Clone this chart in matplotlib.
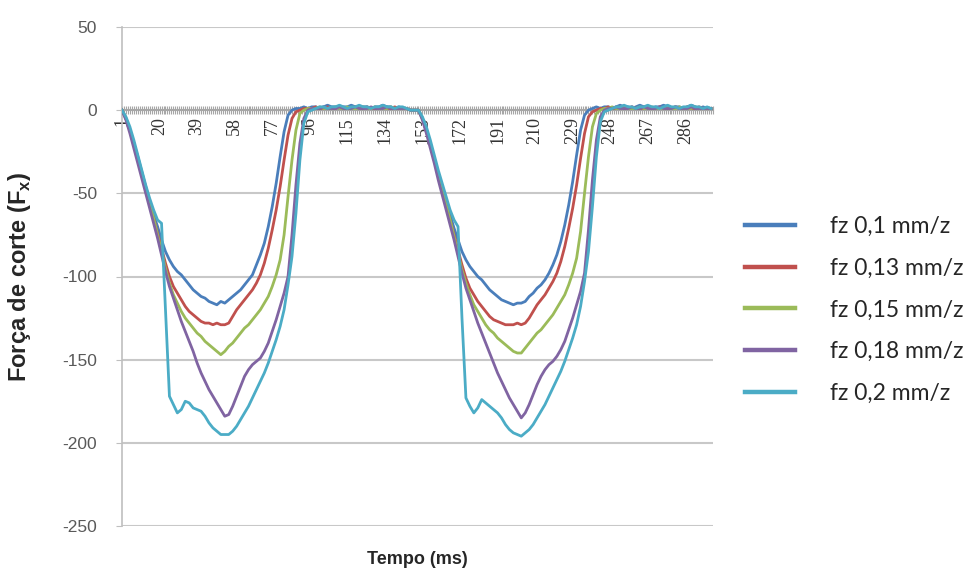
import numpy as np
import matplotlib
matplotlib.use('Agg')
import matplotlib.pyplot as plt

plt.rcParams['font.family'] = ['Liberation Sans', 'DejaVu Sans']
plt.rcParams['axes.unicode_minus'] = False
plt.rcParams['mathtext.fontset'] = 'custom'
plt.rcParams['mathtext.bf'] = 'Liberation Sans:bold'

# tempo em amostras (uma a cada 2 ms), duas passagens do dente
tempo = list(range(1, 301, 2))

fz_01 = [0, -5, -12, -20, -28, -37, -46, -55, -63, -70, -78, -85, -90, -94, -97, -99, -102, -105, -108, -110,
         -112, -113, -115, -116, -117, -115, -116, -114, -112, -110, -108, -105, -102, -99, -93, -87, -80, -70, -58, -44,
         -28, -13, -3, 0, 1, 1, 2, 1, 2, 2, 1, 2, 3, 2, 2, 1, 2, 2, 3, 2,
         1, 2, 2, 1, 2, 2, 3, 2, 2, 1, 2, 1, 1, 0, 0,
         0, -5, -12, -21, -29, -38, -47, -55, -63, -71, -78, -85, -90, -94, -97, -100, -102, -105, -108, -110,
         -112, -114, -115, -116, -117, -116, -116, -115, -112, -110, -107, -105, -102, -98, -93, -87, -79, -69, -57, -43,
         -27, -12, -3, 0, 1, 2, 1, 2, 2, 1, 2, 3, 2, 2, 1, 2, 3, 2, 2, 1,
         2, 2, 3, 2, 1, 2, 2, 1, 2, 3, 2, 1, 2, 1, 1]

fz_013 = [0, -5, -12, -20, -29, -38, -47, -56, -65, -74, -83, -92, -100, -106, -110, -114, -118, -121, -123, -125,
          -127, -128, -128, -129, -128, -129, -129, -128, -124, -120, -117, -114, -111, -108, -104, -99, -92, -83, -72, -60,
          -46, -30, -15, -5, -1, 0, 1, 1, 1, 2, 1, 1, 2, 1, 1, 2, 1, 1, 1, 2,
          1, 1, 2, 1, 1, 1, 2, 1, 1, 2, 1, 1, 1, 0, 0,
          0, -5, -13, -21, -30, -39, -48, -57, -66, -75, -84, -93, -101, -107, -111, -115, -118, -121, -124, -126,
          -127, -128, -129, -129, -129, -128, -129, -128, -125, -121, -117, -114, -111, -107, -103, -98, -91, -82, -71, -59,
          -45, -29, -14, -4, -1, 0, 1, 1, 2, 1, 1, 2, 1, 1, 2, 1, 1, 1, 2, 1,
          1, 2, 1, 1, 1, 2, 1, 1, 2, 1, 1, 2, 1, 1, 1]

fz_015 = [0, -5, -12, -20, -29, -38, -47, -56, -65, -75, -85, -95, -104, -111, -116, -121, -125, -128, -131, -134,
          -136, -139, -141, -143, -145, -147, -145, -142, -140, -137, -134, -131, -129, -126, -123, -120, -116, -112, -106, -99,
          -90, -75, -52, -30, -12, -2, 0, 1, 1, 1, 2, 1, 1, 1, 2, 1, 1, 2, 1, 1,
          1, 2, 1, 1, 2, 1, 1, 1, 2, 1, 1, 1, 1, 0, 0,
          0, -5, -12, -21, -30, -39, -48, -57, -66, -76, -86, -96, -104, -111, -117, -121, -125, -129, -132, -134,
          -137, -139, -141, -143, -145, -146, -146, -143, -140, -137, -134, -132, -129, -126, -123, -119, -115, -111, -105, -98,
          -89, -73, -50, -28, -10, -2, 0, 1, 1, 2, 1, 1, 2, 1, 1, 1, 2, 1, 1, 2,
          1, 1, 1, 2, 1, 1, 2, 1, 1, 1, 2, 1, 1, 1, 1]

fz_018 = [0, -6, -14, -23, -32, -41, -50, -59, -68, -77, -87, -97, -106, -113, -120, -127, -133, -139, -145, -152,
          -158, -163, -168, -172, -176, -180, -184, -183, -178, -172, -166, -160, -156, -153, -151, -149, -145, -140, -133, -126,
          -118, -110, -100, -75, -45, -20, -5, 0, 1, 1, 1, 2, 1, 1, 1, 2, 1, 1, 1, 2,
          1, 1, 1, 2, 1, 1, 1, 2, 1, 1, 1, 1, 1, 0, 0,
          0, -6, -14, -23, -32, -42, -51, -60, -69, -78, -88, -98, -107, -114, -121, -128, -134, -140, -146, -152,
          -158, -163, -168, -173, -177, -181, -185, -182, -177, -171, -165, -160, -156, -153, -151, -148, -144, -139, -132, -125,
          -117, -109, -98, -72, -42, -18, -4, 0, 1, 1, 2, 1, 1, 1, 2, 1, 1, 2, 1, 1,
          1, 2, 1, 1, 1, 2, 1, 1, 1, 2, 1, 1, 1, 1, 1]

fz_02 = [0, -4, -10, -18, -27, -36, -45, -53, -60, -66, -68, -120, -172, -177, -182, -180, -175, -176, -179, -180,
         -181, -184, -188, -191, -193, -195, -195, -195, -193, -190, -186, -182, -178, -173, -168, -163, -158, -152, -145, -138,
         -130, -120, -105, -88, -62, -30, -8, -1, 0, 1, 2, 2, 1, 2, 2, 3, 2, 1, 2, 2,
         3, 2, 2, 1, 2, 2, 3, 2, 2, 1, 2, 2, 1, 0, 0,
         0, -4, -10, -18, -27, -36, -44, -52, -60, -66, -70, -125, -173, -178, -182, -179, -174, -176, -178, -180,
         -182, -185, -189, -192, -194, -195, -196, -194, -192, -189, -185, -181, -177, -172, -167, -162, -157, -151, -144, -137,
         -129, -118, -103, -85, -58, -28, -7, -1, 0, 1, 2, 2, 3, 2, 2, 1, 2, 2, 3, 2,
         2, 1, 2, 3, 2, 2, 1, 2, 2, 3, 2, 2, 1, 2, 1]

series = [fz_01, fz_013, fz_015, fz_018, fz_02]
labels = ['fz 0,1 mm/z', 'fz 0,13 mm/z', 'fz 0,15 mm/z', 'fz 0,18 mm/z', 'fz 0,2 mm/z']
colors = ['#4A7EBB', '#C0504D', '#9BBB59', '#8064A2', '#4BACC6']

x_ticks = list(range(1, 300, 19))

fig = plt.figure(figsize=(9.68, 5.74), dpi=100)
ax = fig.add_axes([122 / 968, 48 / 574, 591 / 968, 499 / 574])

lines = []
for vals, lab, col in zip(series, labels, colors):
    ln, = ax.plot(tempo, vals, color=col, lw=2.0, label=lab, solid_joinstyle='round', zorder=3)
    lines.append(ln)

ax.set_xlim(1, 300)
ax.set_ylim(-250, 50)

# eixo das categorias cruza em zero
for s in ['top', 'right']:
    ax.spines[s].set_visible(False)
ax.spines['bottom'].set_position(('data', 0))
ax.spines['bottom'].set_color('#A6A6A6')
ax.spines['bottom'].set_linewidth(1.5)
ax.spines['bottom'].set_zorder(2)
ax.spines['left'].set_color('#BFBFBF')
ax.spines['left'].set_linewidth(1.2)

ax.set_yticks(range(-250, 51, 50))
ax.yaxis.grid(True, color='#C8C8C8', lw=1.5)
ax.set_axisbelow(True)
ax.tick_params(axis='y', length=4, color='#BFBFBF', labelsize=12.5, labelcolor='#595959', pad=14)

ax.set_xticks(x_ticks)
ax.set_xticks(range(1, 301), minor=True)
ax.set_xticklabels([str(t) for t in x_ticks], rotation=90, fontsize=13, color='#333333',
                   family=['Liberation Serif', 'DejaVu Serif'])
ax.tick_params(axis='x', which='both', direction='inout', length=6, width=0.8, color='#A6A6A6', pad=2)

ax.set_xlabel('Tempo (ms)', fontsize=13, fontweight='bold', color='#262626')
ax.xaxis.set_label_coords(0.5, -0.05)
ax.set_ylabel(r'Força de corte (F$_\mathbf{x}$)', fontsize=17, fontweight='bold', color='#262626')
ax.yaxis.set_label_coords(-0.15, 0.5)

leg = fig.legend(handles=lines, loc='center left', bbox_to_anchor=(745 / 968, 1 - 310 / 574),
                 frameon=False, handlelength=2.2, handletextpad=1.5, labelspacing=0.9,
                 borderpad=0, borderaxespad=0, prop={'family': ['Lato', 'DejaVu Sans'], 'size': 16.5})
for h in leg.legend_handles:
    h.set_linewidth(3.2)
for t in leg.get_texts():
    t.set_color('#262626')

fig.savefig('out.png', dpi=100, facecolor='white')
